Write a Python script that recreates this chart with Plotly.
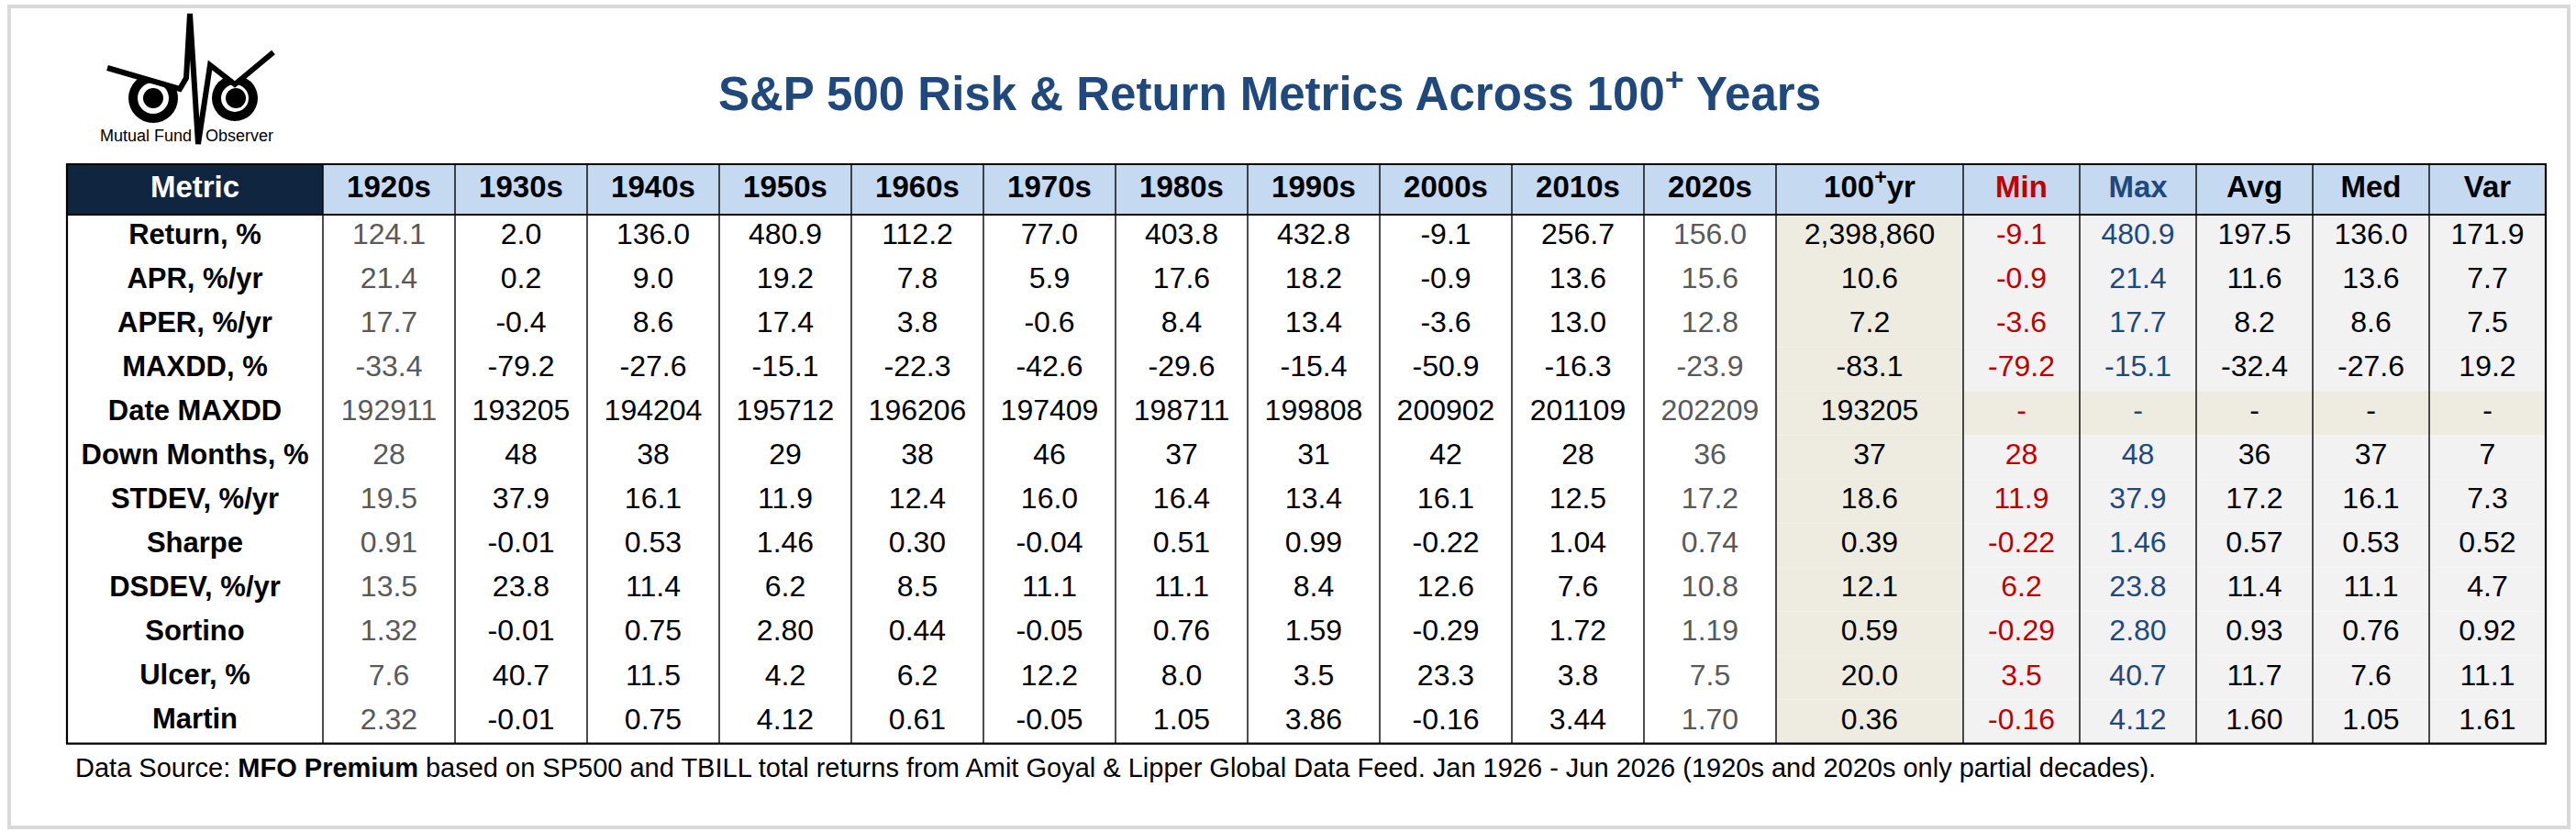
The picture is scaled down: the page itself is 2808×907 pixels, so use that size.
import plotly.graph_objects as go

# ---- data -------------------------------------------------------------
metrics = ["Return, %", "APR, %/yr", "APER, %/yr", "MAXDD, %", "Date MAXDD",
           "Down Months, %", "STDEV, %/yr", "Sharpe", "DSDEV, %/yr", "Sortino",
           "Ulcer, %", "Martin"]
decades = ["1920s", "1930s", "1940s", "1950s", "1960s", "1970s",
           "1980s", "1990s", "2000s", "2010s", "2020s"]
stat_names = ["100<sup>+</sup>yr", "Min", "Max", "Avg", "Med", "Var"]

d1920s = [124.1, 21.4, 17.7, -33.4, 192911, 28, 19.5, 0.91, 13.5, 1.32, 7.6, 2.32]
d1930s = [2.0, 0.2, -0.4, -79.2, 193205, 48, 37.9, -0.01, 23.8, -0.01, 40.7, -0.01]
d1940s = [136.0, 9.0, 8.6, -27.6, 194204, 38, 16.1, 0.53, 11.4, 0.75, 11.5, 0.75]
d1950s = [480.9, 19.2, 17.4, -15.1, 195712, 29, 11.9, 1.46, 6.2, 2.80, 4.2, 4.12]
d1960s = [112.2, 7.8, 3.8, -22.3, 196206, 38, 12.4, 0.30, 8.5, 0.44, 6.2, 0.61]
d1970s = [77.0, 5.9, -0.6, -42.6, 197409, 46, 16.0, -0.04, 11.1, -0.05, 12.2, -0.05]
d1980s = [403.8, 17.6, 8.4, -29.6, 198711, 37, 16.4, 0.51, 11.1, 0.76, 8.0, 1.05]
d1990s = [432.8, 18.2, 13.4, -15.4, 199808, 31, 13.4, 0.99, 8.4, 1.59, 3.5, 3.86]
d2000s = [-9.1, -0.9, -3.6, -50.9, 200902, 42, 16.1, -0.22, 12.6, -0.29, 23.3, -0.16]
d2010s = [256.7, 13.6, 13.0, -16.3, 201109, 28, 12.5, 1.04, 7.6, 1.72, 3.8, 3.44]
d2020s = [156.0, 15.6, 12.8, -23.9, 202209, 36, 17.2, 0.74, 10.8, 1.19, 7.5, 1.70]
all_years = [2398860, 10.6, 7.2, -83.1, 193205, 37, 18.6, 0.39, 12.1, 0.59, 20.0, 0.36]
v_min = [-9.1, -0.9, -3.6, -79.2, None, 28, 11.9, -0.22, 6.2, -0.29, 3.5, -0.16]
v_max = [480.9, 21.4, 17.7, -15.1, None, 48, 37.9, 1.46, 23.8, 2.80, 40.7, 4.12]
v_avg = [197.5, 11.6, 8.2, -32.4, None, 36, 17.2, 0.57, 11.4, 0.93, 11.7, 1.60]
v_med = [136.0, 13.6, 8.6, -27.6, None, 37, 16.1, 0.53, 11.1, 0.76, 7.6, 1.05]
v_var = [171.9, 7.7, 7.5, 19.2, None, 7, 7.3, 0.52, 4.7, 0.92, 11.1, 1.61]

decimals = [1, 1, 1, 1, 0, 0, 1, 2, 1, 2, 1, 2]
thousands = [True, False, False, False, False, False, False, False, False, False, False, False]

# ---- layout / style ---------------------------------------------------
W, H = 2808, 907
FONT = "Liberation Sans, Arial, sans-serif"
NAVY = "#10253F"
LBLUE = "#C5D9F1"
BEIGE = "#EEECE1"
LGRAY = "#F2F2F2"
RED = "#C00000"
BLUE = "#1F497D"
GRAYTXT = "#595959"

X0 = 73
widths = [279] + [144] * len(decades) + [204] + [127] * 5
edges = [X0]
for w in widths:
    edges.append(edges[-1] + w)
centers = [(a + b) / 2 for a, b in zip(edges[:-1], edges[1:])]

HEAD_TOP, HEAD_H, ROW_H = 179, 55, 48.05
row_edges = [HEAD_TOP + HEAD_H + ROW_H * i for i in range(len(metrics) + 1)]
row_centers = [(a + b) / 2 for a, b in zip(row_edges[:-1], row_edges[1:])]
head_center = HEAD_TOP + HEAD_H / 2
BOTTOM = row_edges[-1]


def fmt(v, nd, sep):
    if v is None:
        return "-"
    if sep and abs(v) >= 10000:
        return "{:,.0f}".format(v)
    return "{:.{n}f}".format(v, n=nd)


columns = [d1920s, d1930s, d1940s, d1950s, d1960s, d1970s, d1980s, d1990s,
           d2000s, d2010s, d2020s, all_years, v_min, v_max, v_avg, v_med, v_var]
col_colors = ([GRAYTXT] + ["black"] * 9 + [GRAYTXT] + ["black"]
              + [RED, BLUE, "black", "black", "black"])

fig = go.Figure()
shapes = []

# cell fills
date_row = metrics.index("Date MAXDD")
for j in range(len(widths)):
    hdr_fill = NAVY if j == 0 else LBLUE
    shapes.append(dict(type="rect", x0=edges[j], x1=edges[j + 1], y0=HEAD_TOP,
                       y1=HEAD_TOP + HEAD_H, fillcolor=hdr_fill, line_width=0, layer="below"))
    for i in range(len(metrics)):
        if j <= len(decades):
            fill = "white"
        elif j == len(decades) + 1:
            fill = BEIGE
        else:
            fill = BEIGE if i == date_row else LGRAY
        shapes.append(dict(type="rect", x0=edges[j], x1=edges[j + 1], y0=row_edges[i],
                           y1=row_edges[i + 1], fillcolor=fill, line_width=0, layer="below"))

# grid lines
for x in edges:
    shapes.append(dict(type="line", x0=x, x1=x, y0=HEAD_TOP, y1=BOTTOM,
                       line=dict(color="black", width=1.4)))
shapes.append(dict(type="line", x0=edges[0], x1=edges[-1], y0=HEAD_TOP + HEAD_H,
                   y1=HEAD_TOP + HEAD_H, line=dict(color="black", width=2)))
shapes.append(dict(type="rect", x0=edges[0], x1=edges[-1], y0=HEAD_TOP, y1=BOTTOM,
                   line=dict(color="black", width=2.2)))
# outer frame
shapes.append(dict(type="rect", x0=10, x1=2800, y0=7, y1=902,
                   line=dict(color="#D9D9D9", width=4)))

# header texts
headers = ["Metric"] + decades + stat_names
hdr_colors = ["white"] + ["black"] * (len(decades) + 1) + [RED, BLUE, "black", "black", "black"]
fig.add_trace(go.Scatter(x=centers, y=[head_center] * len(headers), text=headers,
                         mode="text", textposition="middle center", hoverinfo="skip",
                         textfont=dict(family=FONT, size=33, color=hdr_colors, weight="bold")))

# metric labels
fig.add_trace(go.Scatter(x=[centers[0]] * len(metrics), y=row_centers, text=metrics,
                         mode="text", textposition="middle center", hoverinfo="skip",
                         textfont=dict(family=FONT, size=31, color="black", weight="bold")))

# values
for j, (col, colr) in enumerate(zip(columns, col_colors)):
    fig.add_trace(go.Scatter(x=[centers[j + 1]] * len(col), y=row_centers,
                             text=[fmt(v, nd, s) for v, nd, s in zip(col, decimals, thousands)],
                             mode="text", textposition="middle center", hoverinfo="skip",
                             textfont=dict(family=FONT, size=32, color=colr)))

# ---- logo (Mutual Fund Observer) --------------------------------------
shapes += [
    dict(type="circle", x0=140, x1=194, y0=80, y1=134, fillcolor="black", line_width=0),
    dict(type="circle", x0=150, x1=184, y0=90, y1=124, fillcolor="white", line_width=0),
    dict(type="circle", x0=156, x1=178, y0=96, y1=118, fillcolor="black", line_width=0),
    dict(type="circle", x0=231, x1=281, y0=82, y1=132, fillcolor="black", line_width=0),
    dict(type="circle", x0=241, x1=271, y0=92, y1=122, fillcolor="white", line_width=0),
    dict(type="circle", x0=246, x1=268, y0=96, y1=118, fillcolor="black", line_width=0),
    dict(type="path", path="M117,74 L196,97 L203,85 L203,40 L117,40 Z",
         fillcolor="white", line_width=0),
    dict(type="path", path="M229,71 L256,92 L298,57 L298,40 L229,40 Z",
         fillcolor="white", line_width=0),
    dict(type="path",
         path="M117,74 L196,97 L203,85 L207,15 L216,157 L229,71 L256,92 L298,57",
         line=dict(color="black", width=6)),
]

annotations = [
    dict(x=211, y=148, text="Mutual Fund", xanchor="right", showarrow=False,
         font=dict(family=FONT, size=18, color="black")),
    dict(x=222, y=148, text="Observer", xanchor="left", showarrow=False,
         font=dict(family=FONT, size=18, color="black")),
    dict(x=1384, y=99, text="S&P 500 Risk & Return Metrics Across 100<sup>+</sup> Years",
         showarrow=False, font=dict(family=FONT, size=51, color=BLUE, weight="bold")),
    dict(x=80, y=837, xanchor="left", showarrow=False,
         text="Data Source: <b>MFO Premium</b> based on SP500 and TBILL total returns from "
              "Amit Goyal & Lipper Global Data Feed. Jan 1926 - Jun 2026 (1920s and 2020s "
              "only partial decades).",
         font=dict(family=FONT, size=29, color="black")),
]

fig.update_layout(
    width=W, height=H, autosize=False,
    margin=dict(l=0, r=0, t=0, b=0),
    paper_bgcolor="white", plot_bgcolor="white",
    showlegend=False,
    xaxis=dict(range=[0, W], visible=False, fixedrange=True),
    yaxis=dict(range=[H, 0], visible=False, fixedrange=True),
    shapes=shapes, annotations=annotations,
)

fig.write_html("out.html", config={"displayModeBar": False, "staticPlot": True},
               post_script="document.body.style.margin='0';document.body.style.overflow='hidden';")
